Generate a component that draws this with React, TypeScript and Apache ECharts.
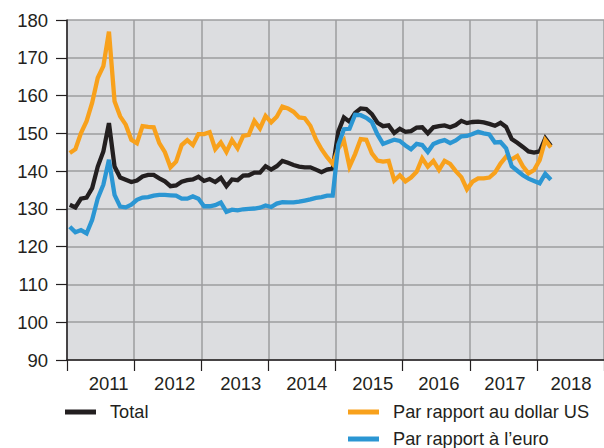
import React, { useEffect, useRef } from "react";
import * as echarts from "echarts";

// Monthly index values, Jan 2011 .. Mar 2018
const yearLabels = ["2011", "2012", "2013", "2014", "2015", "2016", "2017", "2018"];

const total = [
  131.1, 130.4, 132.7, 133.0, 135.5, 141.2, 145.2, 152.7, 141.2, 138.3, 137.7, 137.1,
  137.5, 138.6, 139.0, 139.0, 138.1, 137.3, 136.0, 136.2, 137.2, 137.6, 137.8, 138.5,
  137.4, 137.9, 137.1, 138.2, 136.0, 137.8, 137.6, 138.8, 138.9, 139.6, 139.6, 141.3,
  140.4, 141.3, 142.7, 142.2, 141.6, 141.2, 141.0, 141.0, 140.4, 139.7, 140.4, 140.7,
  150.5, 154.2, 153.1, 155.4, 156.6, 156.4, 155.1, 152.8, 151.9, 152.1, 150.1, 151.2,
  150.4, 150.6, 151.5, 151.6, 150.0, 151.6, 151.9, 152.1, 151.6, 152.2, 153.3, 152.7,
  153.0, 153.1, 152.9, 152.5, 152.0, 152.8, 151.7, 148.5, 147.5, 146.4, 145.2, 144.9,
  145.2, 148.7, 146.7,
];

const usd = [
  144.8, 145.8, 150.1, 153.2, 158.1, 164.7, 167.8, 176.9, 158.5, 154.5, 152.3, 148.3,
  147.4, 151.9, 151.7, 151.6, 147.4, 145.0, 141.0, 142.5, 146.9, 148.2, 146.9, 149.8,
  149.8, 150.3, 145.8, 147.6, 145.1, 148.2, 146.0, 149.3, 149.6, 153.3, 151.3, 154.6,
  152.9, 154.4, 157.1, 156.6, 155.7, 154.2, 154.0, 152.0, 148.4, 145.8, 143.7, 141.9,
  146.0, 148.1, 141.2, 144.5, 148.5, 148.3, 144.7, 142.8, 142.5, 142.7, 137.5, 138.9,
  137.3, 138.3, 139.8, 143.4, 141.2, 142.7, 140.3, 142.7, 141.9, 140.0, 138.4, 135.2,
  137.2, 138.1, 138.1, 138.3, 139.6, 142.0, 143.8, 143.1, 144.0, 141.3, 139.4, 140.3,
  142.9, 148.2, 146.3,
];

const eur = [
  125.3, 123.8, 124.4, 123.5, 127.1, 132.8, 136.4, 143.0, 133.7, 130.6, 130.4, 131.1,
  132.4, 133.0, 133.1, 133.5, 133.7, 133.7, 133.6, 133.5, 132.7, 132.7, 133.3, 132.7,
  130.7, 130.7, 131.0, 131.7, 129.2, 129.8, 129.6, 129.9, 130.0, 130.1, 130.3, 130.9,
  130.5, 131.4, 131.8, 131.7, 131.7, 131.9, 132.2, 132.5, 132.9, 133.1, 133.5, 133.5,
  147.0, 151.1, 151.2, 154.9, 154.8, 154.1, 153.0, 149.7, 147.2, 147.8, 148.3, 148.0,
  146.8, 145.8, 147.2, 146.9, 145.1, 147.2, 147.8, 148.2, 147.4, 148.1, 149.2, 149.3,
  149.8, 150.4, 150.0, 149.7, 147.6, 147.7, 146.0, 141.3, 140.1, 138.9, 138.0, 137.4,
  136.8, 139.3, 137.7,
];

const seriesNames = ["Total", "Par rapport au dollar US", "Par rapport à l’euro"];
const seriesColors = ["#231f20", "#f8a11c", "#2b96d3"];

const toPoints = (arr: number[]) => arr.map((v, i) => [i + 0.5, v]);

export default function App() {
  const ref = useRef<HTMLDivElement>(null);

  useEffect(() => {
    if (!ref.current) return;
    const chart = echarts.init(ref.current, undefined, { renderer: "svg" });
    const font = "'Liberation Sans', Arial, Helvetica, sans-serif";
    const txt = "#231f20";
    const gridColor = "#9c9d9f";
    const legendText = { fontSize: 18.2, color: txt, fontFamily: font };
    const legendBase = {
      icon: "rect",
      itemWidth: 31,
      itemHeight: 5,
      padding: 0,
    };

    chart.setOption({
      animation: false,
      backgroundColor: "#ffffff",
      textStyle: { fontFamily: font },
      grid: [
        { left: 67, right: -2, top: 20, bottom: 88, show: true, backgroundColor: "#dcdde0", borderWidth: 0 },
        { left: 75.6, right: -2, top: 20, bottom: 88, show: false },
      ],
      xAxis: [
        {
          type: "value",
          gridIndex: 0,
          min: 0,
          max: 96,
          interval: 12,
          axisLine: { show: true, onZero: false, lineStyle: { color: txt, width: 1.5 } },
          axisTick: { show: true, length: 11, lineStyle: { color: txt, width: 1.2 } },
          axisLabel: { show: false },
          splitLine: { show: true, lineStyle: { color: gridColor, width: 1.5 } },
        },
        {
          type: "category",
          gridIndex: 1,
          data: yearLabels,
          boundaryGap: true,
          axisLine: { show: false },
          axisTick: { show: false },
          splitLine: { show: false },
          axisLabel: { interval: 0, fontSize: 18.5, color: txt, margin: 14, fontFamily: font },
        },
      ],
      yAxis: [
        {
          type: "value",
          gridIndex: 0,
          min: 90,
          max: 180,
          interval: 10,
          axisLine: { show: true, lineStyle: { color: txt, width: 1.5 } },
          axisTick: { show: true, length: 11, lineStyle: { color: txt, width: 1.2 } },
          axisLabel: { fontSize: 18.5, color: txt, margin: 19, fontFamily: font },
          splitLine: { show: true, lineStyle: { color: gridColor, width: 1.5 } },
        },
        { type: "value", gridIndex: 1, show: false, min: 0, max: 1 },
      ],
      legend: [
        {
          ...legendBase,
          data: [seriesNames[0]],
          left: 65,
          top: 403,
          textStyle: { ...legendText, padding: [0, 0, 0, 9] },
        },
        {
          ...legendBase,
          data: [seriesNames[1]],
          left: 348,
          top: 403,
          textStyle: { ...legendText, padding: [0, 0, 0, 9] },
        },
        {
          ...legendBase,
          data: [seriesNames[2]],
          left: 348,
          top: 430,
          textStyle: { ...legendText, padding: [0, 0, 0, 9] },
        },
      ],
      series: [total, usd, eur].map((arr, k) => ({
        name: seriesNames[k],
        type: "line",
        xAxisIndex: 0,
        yAxisIndex: 0,
        data: toPoints(arr),
        color: seriesColors[k],
        symbol: "none",
        showSymbol: false,
        lineStyle: { width: 4.3, color: seriesColors[k], join: "miter" },
      })),
    });

    return () => chart.dispose();
  }, []);

  return (
    <div
      ref={ref}
      style={{ position: "absolute", left: 0, top: 0, width: 604, height: 448, background: "#fff" }}
    />
  );
}
